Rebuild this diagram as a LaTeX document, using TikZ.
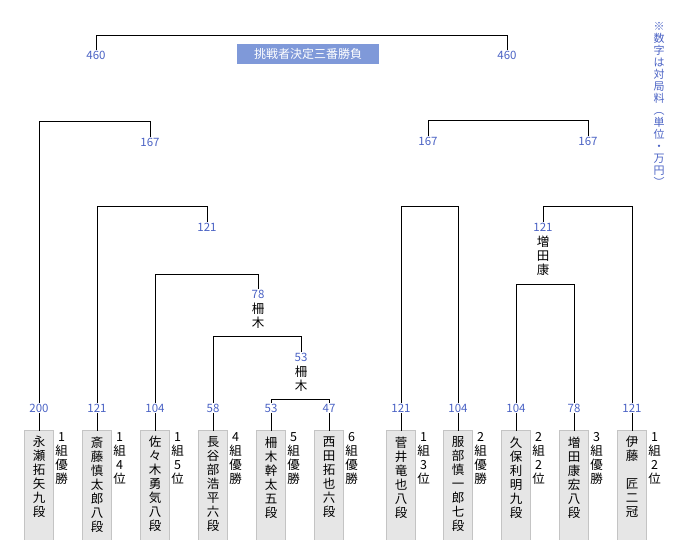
\documentclass[tikz,border=0pt]{standalone}
\usepackage{fontspec}
\setmainfont{Noto Sans CJK JP}
\usetikzlibrary{positioning,backgrounds}
\definecolor{numblue}{HTML}{4A62C4}
\definecolor{titleblue}{HTML}{7F99D9}
\definecolor{boxgray}{HTML}{E6E6E6}
\definecolor{boxline}{HTML}{C4C4C4}
\tikzset{
  num/.style={font=\fontsize{11.5}{11.5}\selectfont, text=numblue, inner sep=1pt,
    text height=8.5pt, text depth=0pt},
  namebox/.style={anchor=north, minimum width=28pt, inner xsep=0pt, inner ysep=6pt,
    align=center, font=\fontsize{12.5}{14}\selectfont},
  boxbg/.style={fill=boxgray, draw=boxline, line width=0.8pt},
  result/.style={anchor=north, align=center, inner sep=0pt,
    font=\fontsize{12.5}{14}\selectfont},
  winner/.style={anchor=north, align=center, inner xsep=1pt, inner ysep=3pt,
    font=\fontsize{12.5}{14}\selectfont},
  titlebox/.style={fill=titleblue, text=white, minimum width=142pt, minimum height=20pt,
    inner sep=0pt, font=\fontsize{12}{12}\selectfont},
  memo/.style={anchor=north, align=center, inner sep=0pt, text=numblue,
    font=\fontsize{11}{12}\selectfont},
}

\begin{document}
\begin{tikzpicture}[x=1pt,y=-1pt,line cap=rect,line width=1pt]
\useasboundingbox (0,0) rectangle (680,540);
\clip (0,0) rectangle (680,540);

  % players
  \node[namebox] (p1) at (39,430) {永\\瀬\\拓\\矢\\九\\段};
  \node[namebox] (p2) at (97,430) {斎\\藤\\慎\\太\\郎\\八\\段};
  \node[namebox] (p3) at (155,430) {佐\\々\\木\\勇\\気\\八\\段};
  \node[namebox] (p4) at (213,430) {長\\谷\\部\\浩\\平\\六\\段};
  \node[namebox] (p5) at (271,430) {柵\\木\\幹\\太\\五\\段};
  \node[namebox] (p6) at (329,430) {西\\田\\拓\\也\\六\\段};
  \node[namebox] (p7) at (401,430) {菅\\井\\竜\\也\\八\\段};
  \node[namebox] (p8) at (458,430) {服\\部\\慎\\一\\郎\\七\\段};
  \node[namebox] (p9) at (516,430) {久\\保\\利\\明\\九\\段};
  \node[namebox] (p10) at (574,430) {増\\田\\康\\宏\\八\\段};
  \node[namebox] (p11) at (632,430) {伊\\藤\\　\\匠\\二\\冠};

  \begin{scope}[on background layer]
    \foreach \i in {1,...,11}
      \draw[boxbg] (p\i.north west) rectangle (p\i.east |- 0,545);
  \end{scope}

  % league results
  \node[result] (r1) at (61.5,432) {1\\組\\優\\勝};
  \node[result] (r2) at (119.5,432) {1\\組\\4\\位};
  \node[result] (r3) at (177.5,432) {1\\組\\5\\位};
  \node[result] (r4) at (235.5,432) {4\\組\\優\\勝};
  \node[result] (r5) at (293.5,432) {5\\組\\優\\勝};
  \node[result] (r6) at (351.5,432) {6\\組\\優\\勝};
  \node[result] (r7) at (423.5,432) {1\\組\\3\\位};
  \node[result] (r8) at (480.5,432) {2\\組\\優\\勝};
  \node[result] (r9) at (538.5,432) {2\\組\\2\\位};
  \node[result] (r10) at (596.5,432) {3\\組\\優\\勝};
  \node[result] (r11) at (654.5,432) {1\\組\\2\\位};

  % fees
  \node[num] (v1) at (39,408) {200};
  \node[num] (v2) at (97,408) {121};
  \node[num] (v3) at (155,408) {104};
  \node[num] (v4) at (213,408) {58};
  \node[num] (v5) at (271,408) {53};
  \node[num] (v6) at (329,408) {47};
  \node[num] (v7) at (401,408) {121};
  \node[num] (v8) at (458,408) {104};
  \node[num] (v9) at (516,408) {104};
  \node[num] (v10) at (574,408) {78};
  \node[num] (v11) at (632,408) {121};

  \foreach \i in {1,...,11}
    \draw (v\i.south) -- (p\i.north);

  % winners
  \node[num] (w4) at (301,357) {53};
  \node[winner] (k4) at (w4.south) {柵\\木};
  \node[num] (w3) at (258,294) {78};
  \node[winner] (k3) at (w3.south) {柵\\木};
  \node[num] (w2) at (207,227) {121};
  \node[num] (w1) at (150,142) {167};
  \node[num] (w9) at (543,227) {121};
  \node[winner] (k9) at (w9.south) {増\\田\\康};
  \node[num] (s7) at (428,141) {167};
  \node[num] (s9) at (588,141) {167};
  \node[num] (f1) at (96,55) {460};
  \node[num] (f2) at (507,55) {460};

  % brackets
  \draw (v5.north) -- (v5.north |- 0,399) -| (v6.north);
  \draw (v4.north) -- (v4.north |- 0,336) -| (w4.north);
  \draw (v3.north) -- (v3.north |- 0,274) -| (w3.north);
  \draw (v2.north) -- (v2.north |- 0,207) -| (w2.north);
  \draw (v1.north) -- (v1.north |- 0,122) -| (w1.north);
  \draw (v7.north) -- (v7.north |- 0,207) -| (v8.north);
  \draw (v9.north) -- (v9.north |- 0,284) -| (v10.north);
  \draw (w9.north) -- (w9.north |- 0,207) -| (v11.north);
  \draw (s7.north) -- (s7.north |- 0,121) -| (s9.north);
  \draw (f1.north) -- (f1.north |- 0,36) -| (f2.north);

  \node[titlebox] (ttl) at (308,54) {挑戦者決定三番勝負};

  \node[memo] (note) at (659,22) {※\\数\\字\\は\\対\\局\\料\\︵\\単\\位\\・\\万\\円\\︶};

\end{tikzpicture}
\end{document}
